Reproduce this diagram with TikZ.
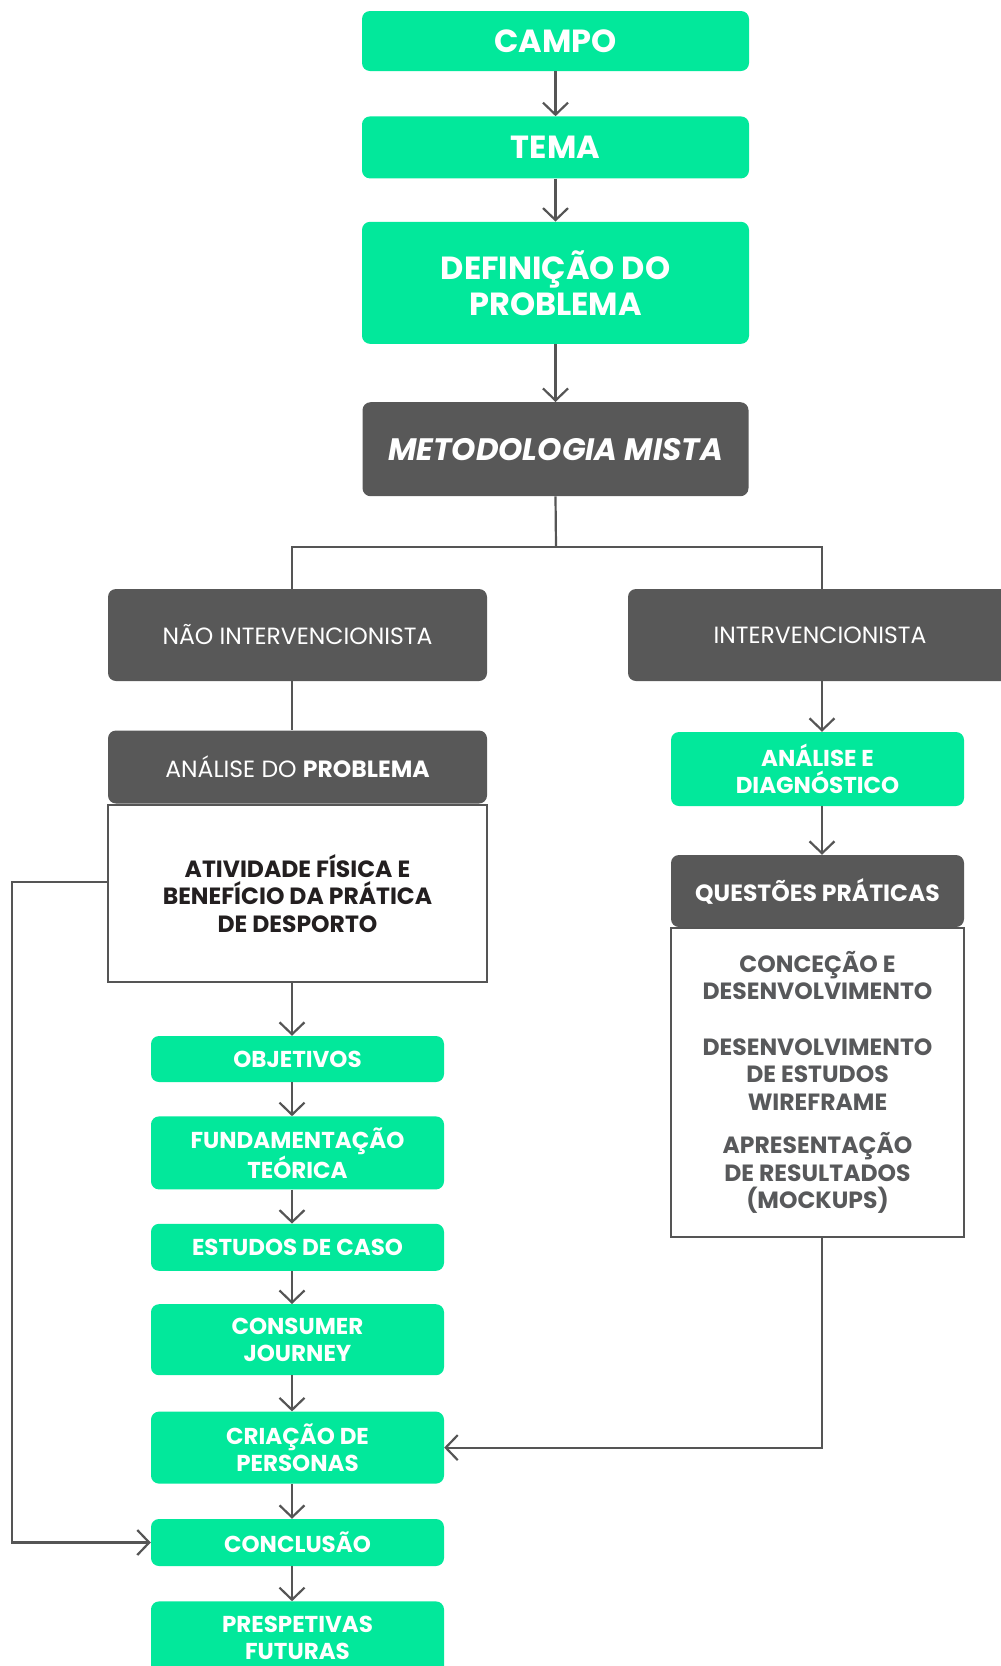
\documentclass[tikz,border=0pt]{standalone}
\usepackage{fontspec}
\setmainfont{Poppins}
\usetikzlibrary{positioning,arrows.meta,calc}

\definecolor{mint}{HTML}{02E89B}
\definecolor{slate}{HTML}{585858}
\definecolor{wire}{HTML}{555555}
\definecolor{ink}{HTML}{231F20}
\definecolor{inkgrey}{HTML}{58595B}

\tikzset{
  greenbox/.style={fill=mint, rounded corners=8pt, text=white, inner sep=0pt,
    align=center, minimum width=293pt, font=\fontsize{23}{27.5}\selectfont\bfseries},
  bigbox/.style={greenbox, minimum width=387pt, font=\fontsize{32}{36}\selectfont\bfseries},
  greybox/.style={fill=slate, rounded corners=8pt, text=white, inner sep=0pt,
    align=center, font=\fontsize{23.5}{27.5}\selectfont},
  bodybox/.style={draw=wire, line width=2pt, fill=white, inner sep=0pt, align=center,
    font=\fontsize{23.5}{27.5}\selectfont\bfseries},
  link/.style={draw=wire, line width=2.2pt},
  flow/.style={link, -{Straight Barb[length=12pt,width=25pt]}},
}

\begin{document}
\begin{tikzpicture}[x=1pt,y=-1pt]

  \useasboundingbox (0,0) rectangle (1001,1666);
  \clip (0,0) rectangle (1001,1666);

  % main column
  \node[bigbox, minimum height=60pt] (campo) at (555.5,41) {CAMPO};
  \node[bigbox, minimum height=62pt] (tema) [below=45pt of campo] {TEMA};
  \node[bigbox, minimum height=122pt] (defin) [below=43pt of tema] {DEFINIÇÃO DO\\PROBLEMA};
  \node[greybox, minimum width=386pt, minimum height=94pt,
    font=\fontsize{31}{36}\selectfont\bfseries\itshape] (metod) [below=58pt of defin] {METODOLOGIA MISTA};

  % two branches
  \node[greybox, minimum width=379pt, minimum height=92pt] (naoint) at (297.5,635) {NÃO INTERVENCIONISTA};
  \node[greybox, minimum width=384pt, minimum height=92pt] (interv) at (820,635) {INTERVENCIONISTA};

  \node[bodybox, minimum width=379pt, minimum height=177pt, text=ink] (anaB) at (297.5,893.5)
    {ATIVIDADE FÍSICA E\\BENEFÍCIO DA PRÁTICA\\DE DESPORTO};
  \node[greybox, minimum width=379pt, minimum height=73pt] (anaH) at (297.5,767) {ANÁLISE DO \textbf{PROBLEMA}};

  \node[greenbox, minimum height=74pt] (diag) at (817.5,769) {ANÁLISE E\\DIAGNÓSTICO};
  \node[bodybox, minimum width=293pt, minimum height=309pt, text=inkgrey] (questB) at (817.5,1082.5)
    {CONCEÇÃO E\\DESENVOLVIMENTO\\[28pt]DESENVOLVIMENTO\\DE ESTUDOS\\WIREFRAME\\[16pt]APRESENTAÇÃO\\DE RESULTADOS\\(MOCKUPS)};
  \node[greybox, minimum width=293pt, minimum height=72pt, font=\fontsize{23.5}{27.5}\selectfont\bfseries] (questH) at (817.5,891) {QUESTÕES PRÁTICAS};

  % left steps
  \node[greenbox, minimum height=46pt] (obj) at (297.5,1059) {OBJETIVOS};
  \node[greenbox, minimum height=73pt] (fund) [below=34pt of obj] {FUNDAMENTAÇÃO\\TEÓRICA};
  \node[greenbox, minimum height=47pt] (est) [below=34pt of fund] {ESTUDOS DE CASO};
  \node[greenbox, minimum height=71pt] (cons) [below=33pt of est] {CONSUMER\\JOURNEY};
  \node[greenbox, minimum height=72pt] (cria) [below=36pt of cons] {CRIAÇÃO DE\\PERSONAS};
  \node[greenbox, minimum height=47pt] (concl) [below=35pt of cria] {CONCLUSÃO};
  \node[greenbox, minimum height=73pt] (presp) [below=35pt of concl] {PRESPETIVAS\\FUTURAS};

  \coordinate (lsp) at (292,0);
  \coordinate (rsp) at (822,0);
  \coordinate (fork) at (556,547);
  \coordinate (loop) at (12,882);

  \foreach \a/\b in {campo/tema, tema/defin, defin/metod}
    \draw[flow] (\a.south) -- (\b.north);

  \draw[link] (metod.south) -- (fork);
  \draw[link] (fork) -| (naoint.north -| lsp);
  \draw[link] (fork) -| (interv.north -| rsp);
  \draw[link] (naoint.south -| lsp) -- (anaH.north -| lsp);
  \draw[flow] (interv.south -| rsp) -- (diag.north -| rsp);
  \draw[flow] (diag.south -| rsp) -- (questH.north -| rsp);

  \draw[flow] (anaB.south -| lsp) -- (obj.north -| lsp);
  \foreach \a/\b in {obj/fund, fund/est, est/cons, cons/cria, cria/concl, concl/presp}
    \draw[flow] (\a.south -| lsp) -- (\b.north -| lsp);

  \draw[flow] (questB.south -| rsp) |- (cria.east);
  \draw[flow] (anaB.west |- loop) -- (loop) |- (concl.west);

\end{tikzpicture}
\end{document}
